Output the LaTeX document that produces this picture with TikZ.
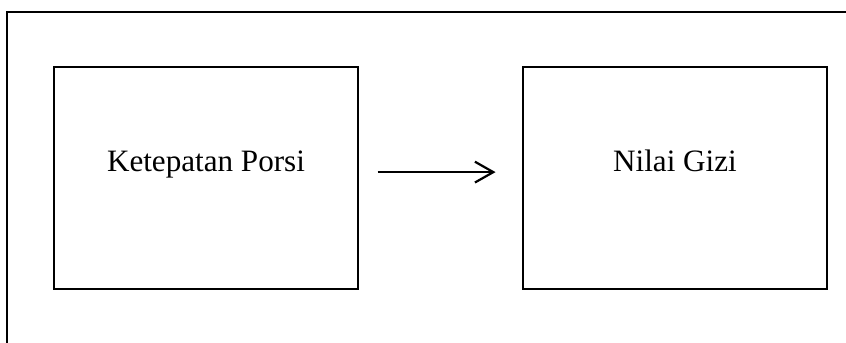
\documentclass[tikz,border=0pt]{standalone}
\usepackage{fontspec}
\setmainfont{Liberation Serif}
\usetikzlibrary{arrows.meta}
\begin{document}
\begin{tikzpicture}[x = 0.408pt, y = -0.408pt,
  kotak/.style = {draw, line width = 0.45pt, minimum width = 124pt, minimum height = 90.6pt,
    text height = 8pt, text depth = 12.9pt, font = \fontsize{12.7}{15}\selectfont},
  panah/.style = {-{Straight Barb[length = 7.5pt, width = 8.5pt, line width = 0.9pt]}, line width = 0.9pt}]
\useasboundingbox (0,0) rectangle (846,343);
\draw [line width = 0.45pt] (7,343) -- (7,12) -- (846,12);
\node [kotak] (porsi) at (206,178) {Ketepatan Porsi};
\node [kotak] (gizi) at (675,178) {Nilai Gizi};
\draw [panah, shorten <= 7.8pt, shorten >= 11pt] ([yshift = 2.4pt]porsi.east) -- ([yshift = 2.4pt]gizi.west);
\end{tikzpicture}
\end{document}
